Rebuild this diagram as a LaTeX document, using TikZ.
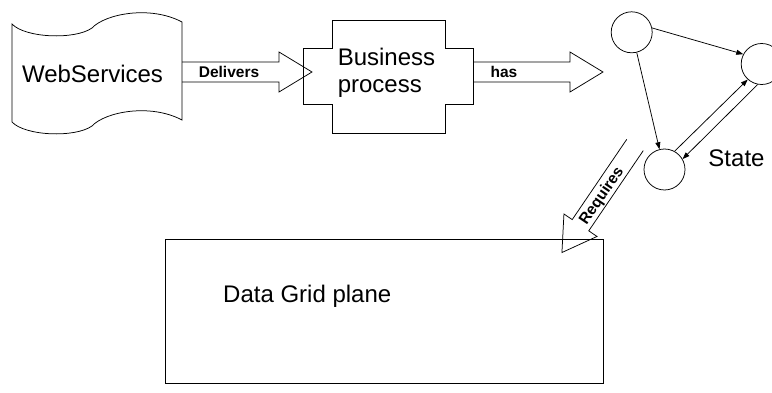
\documentclass[tikz,border=0pt]{standalone}
\usepackage{fontspec}
\setmainfont{Liberation Sans}
\usetikzlibrary{arrows.meta}

% Block arrow: #1 tail point, #2 direction, #3 label, #4 label distance from tail, #5 label rotation
\newcommand\blockarrow[5]{%
  \begin{scope}[shift={#1}, rotate=#2]
    \draw[outline] (0,10) -- (97,10) -- (97,20) -- (130,0) -- (97,-20) -- (97,-10) -- (0,-10);
    \node[arrowlabel, rotate=#5] at (#4,0) {#3};
  \end{scope}}

\tikzset{
  outline/.style={line width=0.75pt, black, line join=miter},
  bigtext/.style={font=\fontsize{24}{27.6}\selectfont, inner sep=0pt},
  arrowlabel/.style={font=\fontsize{15.5}{18}\selectfont\bfseries, inner sep=0pt,
                     text height=11pt, text depth=0pt},
  statenode/.style={circle, draw, line width=0.75pt, minimum size=41pt, inner sep=0pt},
  link/.style={line width=0.75pt, -{Triangle[length=7pt,width=5pt]}}
}

\begin{document}
\begin{tikzpicture}[x=1pt, y=-1pt]
  \useasboundingbox (0,0) rectangle (772,393);

  % WebServices: punched-tape outline
  \draw[outline] (12,24) .. controls (25,38) and (75,40) .. (92,28)
        .. controls (105,14) and (150,5) .. (182,22) -- (182,120)
        .. controls (150,103) and (105,112) .. (92,126)
        .. controls (75,138) and (25,136) .. (12,122) -- cycle;
  \node[bigtext] (ws) at (92.5,73.6) {WebServices};

  % Business process: cross-shaped outline
  \draw[outline] (332,20) -- (445,20) -- (445,48) -- (473,48) -- (473,104)
        -- (445,104) -- (445,133) -- (332,133) -- (332,104) -- (303,104)
        -- (303,48) -- (332,48) -- cycle;
  \node[bigtext, align=left] (bp) at (386.5,72.7) {Business\\process};

  % State machine
  \node[statenode] (s1) at (631.7,32.3) {};
  \node[statenode] (s2) at (761.7,64) {};
  \node[statenode] (s3) at (664.5,169.5) {};
  \node[bigtext] (state) at (736.5,158) {State};

  \draw[link] (s1.12) -- (s2.152);
  \draw[link] (s1.-76) -- (s3.104);
  \draw[link] (s3.61) -- (s2.228);
  \draw[link] (s2.259) -- (s3.30);

  % Data Grid plane
  \draw[outline] (165,239) rectangle (603,383);
  \node[bigtext, anchor=base west] (dg) at (223,302.2) {Data Grid plane};

  % Block arrows between the parts
  \coordinate (delTail) at (182,72);
  \coordinate (hasTail) at (473,72);
  \coordinate (reqTail) at (635,145);
  \blockarrow{(delTail)}{0}{Delivers}{47}{0}
  \blockarrow{(hasTail)}{0}{has}{31}{0}
  \blockarrow{(reqTail)}{235.8}{Requires}{61}{55.8}
\end{tikzpicture}
\end{document}
